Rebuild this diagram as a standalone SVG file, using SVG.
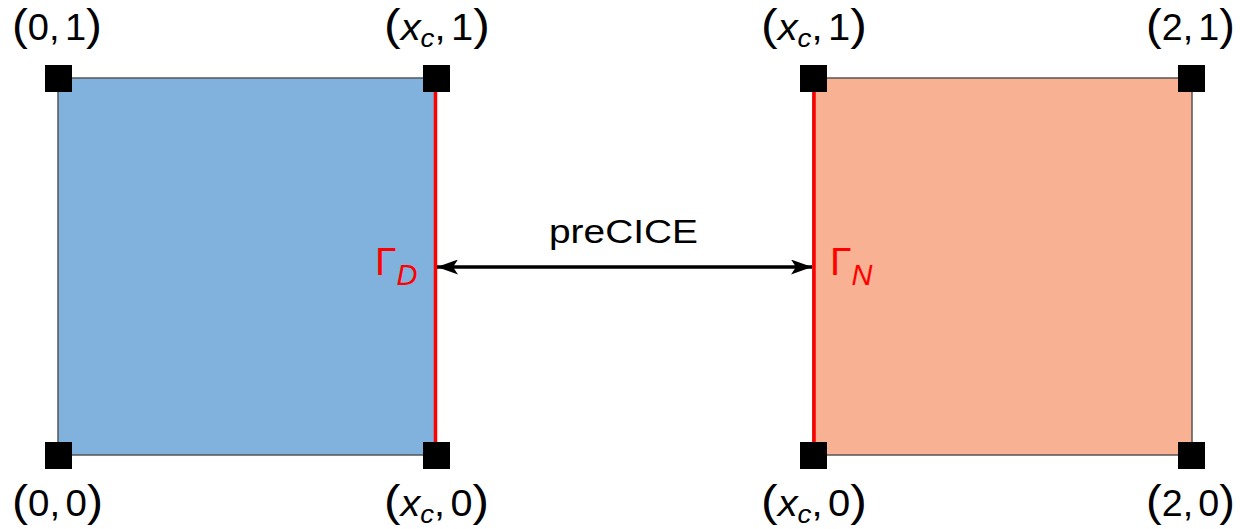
<svg xmlns="http://www.w3.org/2000/svg" width="1240" height="529" viewBox="0 0 1240 529">
<style>
text{font-family:"Liberation Sans",Arial,sans-serif;fill:#000}
.lbl{font-size:36px}
.p{font-size:45px}
.it{font-style:italic}
.sub{font-style:italic;font-size:25px}
.dom{stroke:#555;stroke-width:1.5}
.iface{stroke:#ff0000;stroke-width:3.5}
.corner{fill:#000}
.red{fill:#ff0000}
</style>
<defs>
<marker id="ah" viewBox="0 0 21 15" refX="21" refY="7.5" markerWidth="21" markerHeight="15" markerUnits="userSpaceOnUse" orient="auto-start-reverse">
<path d="M0,0 L21,7.5 L0,15 L5,7.5 Z" fill="#000"/>
</marker>
</defs>
<g id="left-domain">
<rect class="dom" x="58" y="78" width="377" height="377" fill="#80b2dd"/>
<line class="iface" x1="435.5" y1="78" x2="435.5" y2="455"/>
<text x="375" y="275" class="red" font-size="39">Γ<tspan class="it" font-size="29" dy="10">D</tspan></text>
</g>
<g id="right-domain">
<rect class="dom" x="813" y="78" width="379" height="377" fill="#f8b193"/>
<line class="iface" x1="814" y1="78" x2="814" y2="455"/>
<text x="830" y="275" class="red" font-size="39">Γ<tspan class="it" font-size="29" dy="10">N</tspan></text>
</g>
<g id="corners">
<rect class="corner" x="45" y="65" width="27" height="27"/>
<rect class="corner" x="423" y="65" width="27" height="27"/>
<rect class="corner" x="45" y="442" width="27" height="27"/>
<rect class="corner" x="423" y="442" width="27" height="27"/>
<rect class="corner" x="800" y="65" width="27" height="27"/>
<rect class="corner" x="1178" y="65" width="27" height="27"/>
<rect class="corner" x="800" y="442" width="27" height="27"/>
<rect class="corner" x="1178" y="442" width="27" height="27"/>
</g>
<g id="labels">
<text class="lbl" x="12" y="40" textLength="90" lengthAdjust="spacingAndGlyphs"><tspan class="p">(</tspan>0,<tspan dx="5">1</tspan><tspan class="p">)</tspan></text>
<text class="lbl" x="384" y="40" textLength="106" lengthAdjust="spacingAndGlyphs"><tspan class="p">(</tspan><tspan class="it">x</tspan><tspan class="sub" dy="7">c</tspan><tspan dy="-7">,</tspan><tspan dx="5">1</tspan><tspan class="p">)</tspan></text>
<text class="lbl" x="761" y="40" textLength="106" lengthAdjust="spacingAndGlyphs"><tspan class="p">(</tspan><tspan class="it">x</tspan><tspan class="sub" dy="7">c</tspan><tspan dy="-7">,</tspan><tspan dx="5">1</tspan><tspan class="p">)</tspan></text>
<text class="lbl" x="1146" y="40" textLength="89" lengthAdjust="spacingAndGlyphs"><tspan class="p">(</tspan>2,<tspan dx="5">1</tspan><tspan class="p">)</tspan></text>
<text class="lbl" x="12" y="516" textLength="91" lengthAdjust="spacingAndGlyphs"><tspan class="p">(</tspan>0,<tspan dx="5">0</tspan><tspan class="p">)</tspan></text>
<text class="lbl" x="384" y="516" textLength="105" lengthAdjust="spacingAndGlyphs"><tspan class="p">(</tspan><tspan class="it">x</tspan><tspan class="sub" dy="7">c</tspan><tspan dy="-7">,</tspan><tspan dx="5">0</tspan><tspan class="p">)</tspan></text>
<text class="lbl" x="761" y="516" textLength="106" lengthAdjust="spacingAndGlyphs"><tspan class="p">(</tspan><tspan class="it">x</tspan><tspan class="sub" dy="7">c</tspan><tspan dy="-7">,</tspan><tspan dx="5">0</tspan><tspan class="p">)</tspan></text>
<text class="lbl" x="1146" y="516" textLength="89" lengthAdjust="spacingAndGlyphs"><tspan class="p">(</tspan>2,<tspan dx="5">0</tspan><tspan class="p">)</tspan></text>
</g>
<g id="connectors">
<line x1="437" y1="267" x2="812" y2="267" stroke="#000" stroke-width="3.5" marker-start="url(#ah)" marker-end="url(#ah)"/>
<text x="549" y="243" font-size="33" textLength="149" lengthAdjust="spacingAndGlyphs">preCICE</text>
</g>
</svg>
